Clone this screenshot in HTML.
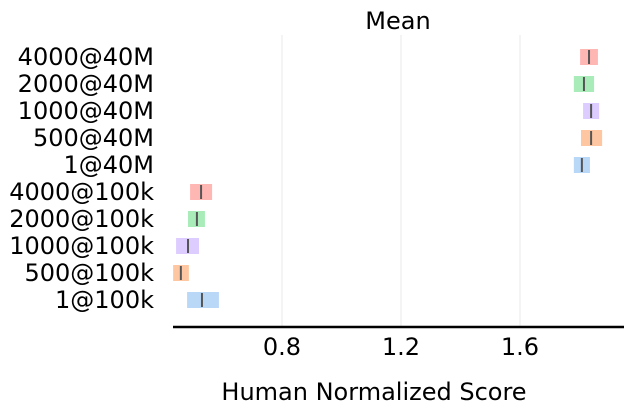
<!DOCTYPE html>
<html><head><meta charset="utf-8"><style>
body{margin:0;background:#fff;}
svg text{font-family:"DejaVu Sans","Liberation Sans",sans-serif;fill:#000;}
</style></head><body>
<svg width="633" height="414" xmlns="http://www.w3.org/2000/svg" id="c">
<text x="398" y="29" font-size="24" text-anchor="middle">Mean</text>
<text x="374" y="400" font-size="24" text-anchor="middle">Human Normalized Score</text>
<g id="grid"></g><g id="bars"></g><g id="ylabels"></g><g id="xticks"></g>
<line x1="173" y1="327" x2="624" y2="327" stroke="#000" stroke-width="2.5"/>
</svg>
<script>
const categories=["4000@40M","2000@40M","1000@40M","500@40M","1@40M","4000@100k","2000@100k","1000@100k","500@100k","1@100k"];
const lows=[1.802,1.781,1.812,1.805,1.781,0.491,0.484,0.444,0.434,0.481];
const highs=[1.862,1.849,1.866,1.876,1.835,0.565,0.541,0.521,0.487,0.588];
const medians=[1.832,1.815,1.839,1.839,1.808,0.528,0.514,0.484,0.460,0.531];
const ticks=[0.8,1.2,1.6];
const tickLabels=["0.8","1.2","1.6"];
const colors=["#ff9f9b","#8de5a1","#d0bbff","#ffb482","#a1c9f4"];
const NS="http://www.w3.org/2000/svg";
const x=v=>282+(v-0.8)*297.5;
const y=i=>57+i*27;
function mk(t,a,p){const e=document.createElementNS(NS,t);for(const k in a)e.setAttribute(k,a[k]);p.appendChild(e);return e;}
const g=document.getElementById('grid'),b=document.getElementById('bars'),yl=document.getElementById('ylabels'),xt=document.getElementById('xticks');
ticks.forEach((t,i)=>{
 const l=mk('line',{x1:x(t),x2:x(t),y1:35,y2:327,stroke:'#e8e8e8','stroke-width':1},g);
 
 
 const tx=mk('text',{x:x(t),y:355,'font-size':24,'text-anchor':'middle'},xt);tx.textContent=tickLabels[i];
 
 
});
categories.forEach((c,i)=>{
 const r=mk('rect',{x:x(lows[i]),y:y(i)-8,width:x(highs[i])-x(lows[i]),height:16,fill:colors[i%5],opacity:0.75},b);
 
 
 const m=mk('line',{x1:x(medians[i]),x2:x(medians[i]),y1:y(i)-7,y2:y(i)+7,stroke:'#555','stroke-width':2},b);
 
 
 const t=mk('text',{x:154,y:y(i)+8,'font-size':24,'text-anchor':'end'},yl);t.textContent=c;
 
 
});
</script>
</body></html>
